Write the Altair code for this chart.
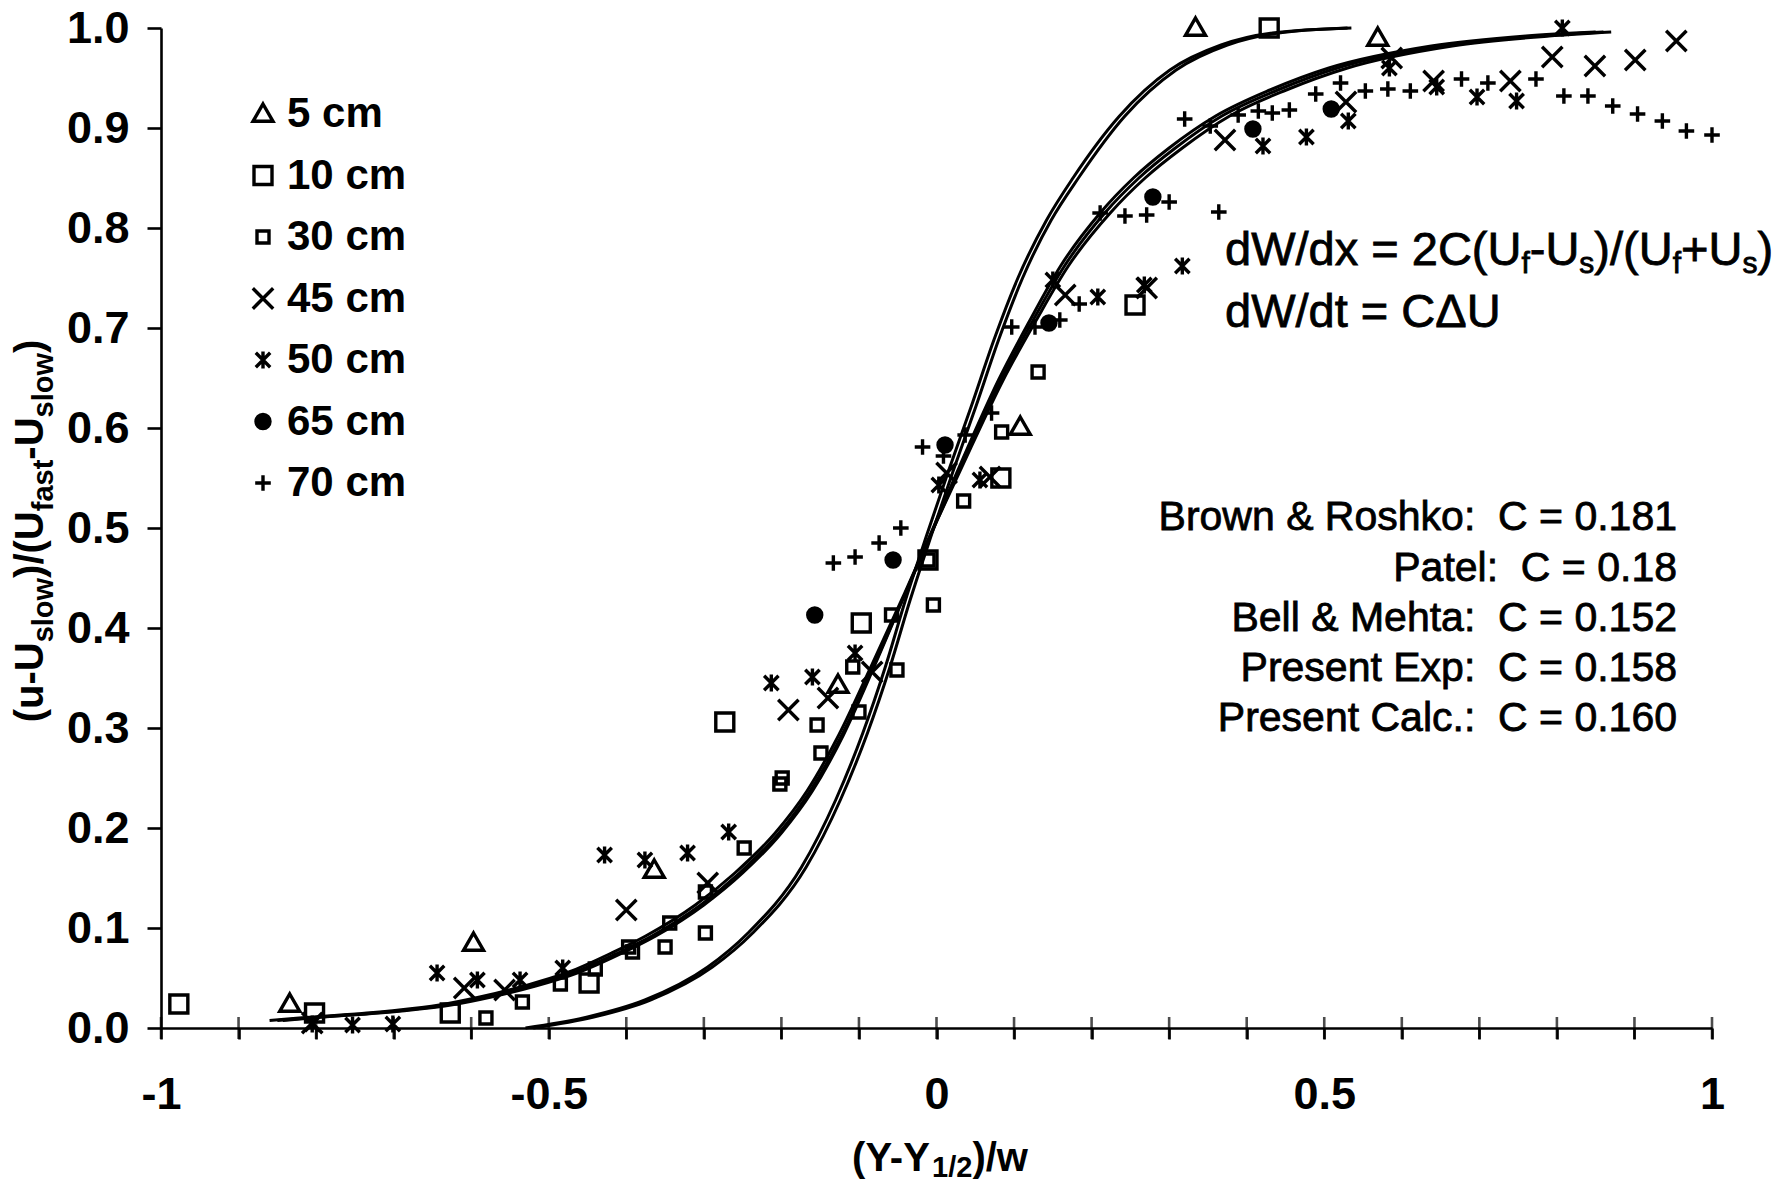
import altair as alt
import pandas as pd

FONT = "Liberation Sans"

# ---------------- data ----------------
series_names = ["5 cm", "10 cm", "30 cm", "45 cm", "50 cm", "65 cm", "70 cm"]

x_5 = [-0.834, -0.597, -0.364, -0.127, 0.108, 0.334, 0.569]
y_5 = [0.024, 0.085, 0.158, 0.343, 0.601, 1.000, 0.990]

x_10 = [-0.977, -0.802, -0.627, -0.448, -0.273, -0.097, -0.011, 0.083, 0.256, 0.429]
y_10 = [0.024, 0.015, 0.015, 0.045, 0.306, 0.405, 0.468, 0.550, 0.723, 1.000]

x_30 = [-0.581, -0.534, -0.485, -0.440, -0.397, -0.392, -0.350, -0.344, -0.298, -0.298,
        -0.248, -0.202, -0.199, -0.154, -0.149, -0.108, -0.100, -0.058, -0.051, -0.011,
        -0.004, 0.035, 0.084, 0.131]
y_30 = [0.010, 0.026, 0.044, 0.059, 0.081, 0.076, 0.081, 0.105, 0.095, 0.136,
        0.180, 0.244, 0.250, 0.303, 0.275, 0.361, 0.316, 0.413, 0.358, 0.468,
        0.423, 0.527, 0.596, 0.656]

x_45 = [-0.805, -0.609, -0.557, -0.400, -0.295, -0.191, -0.140, -0.083, 0.013, 0.069,
        0.166, 0.271, 0.372, 0.528, 0.587, 0.641, 0.740, 0.794, 0.849, 0.901, 0.954]
y_45 = [0.005, 0.040, 0.038, 0.118, 0.145, 0.318, 0.330, 0.356, 0.555, 0.551,
        0.733, 0.740, 0.888, 0.926, 0.970, 0.947, 0.947, 0.971, 0.962, 0.968, 0.987]

x_50 = [-0.805, -0.753, -0.701, -0.644, -0.592, -0.537, -0.482, -0.428, -0.376, -0.321,
        -0.268, -0.213, -0.160, -0.105, 0.003, 0.056, 0.150, 0.208, 0.268, 0.317,
        0.421, 0.477, 0.531, 0.584, 0.645, 0.697, 0.748, 0.807]
y_50 = [0.004, 0.003, 0.004, 0.055, 0.048, 0.048, 0.060, 0.173, 0.168, 0.175,
        0.196, 0.345, 0.351, 0.375, 0.543, 0.548, 0.748, 0.731, 0.743, 0.762,
        0.882, 0.891, 0.907, 0.960, 0.941, 0.931, 0.927, 1.000]

x_65 = [-0.157, -0.056, 0.011, 0.145, 0.279, 0.408, 0.509]
y_65 = [0.413, 0.468, 0.583, 0.705, 0.831, 0.899, 0.919]

x_70 = [-0.133, -0.105, -0.074, -0.046, -0.018, 0.009, 0.037, 0.071, 0.097, 0.127,
        0.159, 0.184, 0.211, 0.243, 0.271, 0.300, 0.364, 0.320, 0.353, 0.389,
        0.415, 0.433, 0.455, 0.489, 0.521, 0.553, 0.582, 0.611, 0.677, 0.711,
        0.773, 0.809, 0.840, 0.872, 0.904, 0.936, 0.967, 1.000]
y_70 = [0.465, 0.471, 0.485, 0.500, 0.581, 0.572, 0.593, 0.615, 0.701, 0.701,
        0.708, 0.724, 0.815, 0.812, 0.813, 0.826, 0.816, 0.909, 0.902, 0.913,
        0.917, 0.915, 0.918, 0.934, 0.945, 0.937, 0.939, 0.937, 0.949, 0.945,
        0.949, 0.932, 0.932, 0.922, 0.914, 0.907, 0.897, 0.893]

# model curves
curve_names = ["Brown & Roshko", "Patel", "Bell & Mehta", "Present Exp", "Present Calc"]
x_br = [-0.530, -0.450, -0.376, -0.295, -0.243, -0.174, -0.130, -0.095, -0.066, -0.040, -0.013,
        0.015, 0.045, 0.074, 0.105, 0.142, 0.176, 0.236, 0.301, 0.367, 0.433, 0.535]
y_br = [0.000, 0.011, 0.028, 0.061, 0.095, 0.161, 0.228, 0.295, 0.361, 0.428, 0.492,
        0.556, 0.622, 0.688, 0.750, 0.808, 0.850, 0.912, 0.958, 0.983, 0.995, 1.000]
x_pa = [-0.520, -0.442, -0.369, -0.289, -0.237, -0.168, -0.124, -0.089, -0.060, -0.034, -0.007,
        0.021, 0.051, 0.080, 0.111, 0.148, 0.183, 0.243, 0.309, 0.375, 0.441, 0.530]
y_pa = [0.000, 0.011, 0.028, 0.061, 0.095, 0.161, 0.228, 0.295, 0.361, 0.428, 0.492,
        0.556, 0.622, 0.688, 0.750, 0.808, 0.850, 0.912, 0.958, 0.983, 0.995, 1.000]
x_bm = [-0.850, -0.812, -0.696, -0.632, -0.580, -0.523, -0.466, -0.411, -0.367, -0.304, -0.254,
        -0.203, -0.163, -0.122, -0.081, -0.040, 0.001, 0.042, 0.083, 0.124, 0.165, 0.217,
        0.261, 0.308, 0.368, 0.440, 0.517, 0.650, 0.775, 0.860]
y_bm = [0.0075, 0.010, 0.017, 0.023, 0.031, 0.042, 0.056, 0.075, 0.092, 0.123, 0.155,
        0.195, 0.237, 0.293, 0.362, 0.435, 0.508, 0.580, 0.648, 0.707, 0.762, 0.815,
        0.850, 0.880, 0.912, 0.938, 0.960, 0.982, 0.992, 0.996]
x_pe = [-0.860, -0.822, -0.705, -0.641, -0.589, -0.532, -0.474, -0.419, -0.375, -0.311, -0.260,
        -0.208, -0.167, -0.126, -0.084, -0.041, 0.001, 0.044, 0.086, 0.128, 0.170, 0.224,
        0.269, 0.317, 0.378, 0.451, 0.530, 0.665, 0.790, 0.870]
y_pe = [0.0075, 0.010, 0.017, 0.023, 0.031, 0.042, 0.056, 0.075, 0.092, 0.123, 0.155,
        0.195, 0.237, 0.293, 0.362, 0.435, 0.508, 0.580, 0.648, 0.707, 0.762, 0.815,
        0.850, 0.880, 0.912, 0.938, 0.960, 0.982, 0.992, 0.996]
x_pc = [-0.843, -0.806, -0.690, -0.626, -0.574, -0.517, -0.460, -0.405, -0.362, -0.300, -0.250,
        -0.200, -0.160, -0.120, -0.080, -0.040, 0.000, 0.040, 0.080, 0.120, 0.160, 0.211,
        0.254, 0.300, 0.360, 0.430, 0.506, 0.638, 0.760, 0.850]
y_pc = [0.0075, 0.010, 0.017, 0.023, 0.031, 0.042, 0.056, 0.075, 0.092, 0.123, 0.155,
        0.195, 0.237, 0.293, 0.362, 0.435, 0.508, 0.580, 0.648, 0.707, 0.762, 0.815,
        0.850, 0.880, 0.912, 0.938, 0.960, 0.982, 0.992, 0.996]

x_tick_values = [-1.0, -0.9, -0.8, -0.7, -0.6, -0.5, -0.4, -0.3, -0.2, -0.1, 0.0,
                 0.1, 0.2, 0.3, 0.4, 0.5, 0.6, 0.7, 0.8, 0.9, 1.0]
x_label_values = ["-1", "-0.5", "0", "0.5", "1"]
y_tick_values = [0.0, 0.1, 0.2, 0.3, 0.4, 0.5, 0.6, 0.7, 0.8, 0.9, 1.0]

y_title_runs = [("(u-U", 0), ("slow", 1), (")/(U", 0), ("fast", 1), ("-U", 0), ("slow", 1), (")", 0)]
x_title_runs = [("(Y-Y", 0), ("1/2", 1), (")/w", 0)]
eq1_runs = [("dW/dx = 2C(U", 0), ("f", 1), ("-U", 0), ("s", 1), (")/(U", 0), ("f", 1),
            ("+U", 0), ("s", 1), (")", 0)]
eq2_text = "dW/dt = C\u0394U"
c_lines = ["Brown & Roshko:\u00a0 C = 0.181", "Patel:\u00a0 C = 0.18", "Bell & Mehta:\u00a0 C = 0.152",
           "Present Exp:\u00a0 C = 0.158", "Present Calc.:\u00a0 C = 0.160"]

# ---------------- styles ----------------
# marker outlines drawn at one common symbol size (1 unit = 10 px)
TRI = "M0,-1.0L1.0,0.73L-1.0,0.73Z"
BIG_SQ = "M-0.9,-0.9L0.9,-0.9L0.9,0.9L-0.9,0.9Z"
SMALL_SQ = "M-0.6,-0.6L0.6,-0.6L0.6,0.6L-0.6,0.6Z"
X_PATH = "M-1.02,-1.02L1.02,1.02M-1.02,1.02L1.02,-1.02"
AST_PATH = "M-0.72,-0.72L0.72,0.72M-0.72,0.72L0.72,-0.72M0,-0.85L0,0.85"
DOT = "M-0.7,0A0.7,0.7 0 1,0 0.7,0A0.7,0.7 0 1,0 -0.7,0Z"
PLUS_PATH = "M-0.78,0L0.78,0M0,-0.78L0,0.78"
shape_range = [TRI, BIG_SQ, SMALL_SQ, X_PATH, AST_PATH, DOT, PLUS_PATH]
fill_range = ["transparent", "transparent", "transparent", "transparent", "transparent", "black", "transparent"]
stroke_range = ["black"] * 7
SYM_SIZE = 400
SYM_STROKE = 3.4

W_REG = {' ': 278, '\u00a0': 278, '(': 333, ')': 333, '-': 333, '+': 584, '/': 278, '=': 584,
         '2': 556, 'C': 722, 'U': 722, 'W': 944, 'd': 556, 'x': 500, 'f': 278, 's': 500, 't': 278}
W_BOLD = {'(': 333, ')': 333, '-': 333, '/': 278, 'u': 611, 'U': 722, 's': 556, 'l': 278,
          'o': 611, 'w': 778, 'f': 333, 'a': 556, 't': 333, 'Y': 667, '1': 556, '2': 556}


def tw(s, table, size):
    return sum(table.get(c, 556) for c in s) * size / 1000.0


# page offsets of the plot area
VX, VY = 161, 28
PW, PH = 1551, 1000

frames = []
for nm, xs, ys in zip(series_names, [x_5, x_10, x_30, x_45, x_50, x_65, x_70],
                      [y_5, y_10, y_30, y_45, y_50, y_65, y_70]):
    frames.append(pd.DataFrame({"x": xs, "y": ys, "series": nm}))
pts = pd.concat(frames, ignore_index=True)

cframes = []
for nm, xs, ys in zip(curve_names, [x_br, x_pa, x_bm, x_pe, x_pc], [y_br, y_pa, y_bm, y_pe, y_pc]):
    cframes.append(pd.DataFrame({"x": xs, "y": ys, "curve": nm}))
curves = pd.concat(cframes, ignore_index=True)

ticks_df = pd.DataFrame({"x": x_tick_values, "y": [0.0] * len(x_tick_values)})

xscale = alt.Scale(domain=[-1, 1], nice=False, zero=False)
yscale = alt.Scale(domain=[0, 1], nice=False, zero=False)

label_list = "[" + ",".join("'" + v + "'" for v in x_label_values) + "]"
xaxis = alt.Axis(values=x_tick_values, title=None, grid=False,
                 labelExpr="indexof(" + label_list + ", '' + datum.value) >= 0 ? '' + datum.value : ''",
                 domainColor="black", domainWidth=2.6, tickColor="black", tickWidth=2.6, tickSize=11,
                 labelFont=FONT, labelFontSize=45, labelFontWeight="bold", labelColor="black",
                 labelPadding=33, labelOverlap=False, labelFlush=False)
yaxis = alt.Axis(values=y_tick_values, format=".1f", title=None, grid=False,
                 domainColor="black", domainWidth=2.6, tickColor="black", tickWidth=2.6, tickSize=14,
                 labelFont=FONT, labelFontSize=45, labelFontWeight="bold", labelColor="black",
                 labelPadding=18, labelOverlap=False, labelFlush=False)

X = alt.X("x:Q", scale=xscale, axis=xaxis)
Y = alt.Y("y:Q", scale=yscale, axis=yaxis)

leg = alt.Legend(title=None, orient="none", legendX=81, legendY=65, padding=0, offset=0,
                 labelFont=FONT, labelFontSize=42, labelFontWeight="bold", labelColor="black",
                 labelOffset=3, rowPadding=19.5, symbolStrokeColor="black", symbolStrokeWidth=SYM_STROKE,
                 symbolSize=SYM_SIZE, symbolOpacity=1, labelLimit=0)

points = alt.Chart(pts).mark_point(filled=True, size=SYM_SIZE, strokeWidth=SYM_STROKE, opacity=1).encode(
    x=X, y=Y,
    shape=alt.Shape("series:N", scale=alt.Scale(domain=series_names, range=shape_range), legend=leg),
    fill=alt.Fill("series:N", scale=alt.Scale(domain=series_names, range=fill_range), legend=leg),
    stroke=alt.Stroke("series:N", scale=alt.Scale(domain=series_names, range=stroke_range), legend=leg),
)

lines = alt.Chart(curves).mark_line(color="black", strokeWidth=3.0, interpolate="monotone").encode(
    x=X, y=Y, detail="curve:N")

xticks = alt.Chart(ticks_df).mark_tick(orient="vertical", size=22, thickness=2.6, color="black").encode(
    x=X, y=Y)

anchor = pd.DataFrame({"a": [0]})


def txt(text, px, py, size, weight="normal", angle=None, align="left", thick=0.0):
    kw = dict(text=text, font=FONT, fontSize=size, fontWeight=weight, color="black",
              align=align, baseline="alphabetic")
    if angle is not None:
        kw["angle"] = angle
    if thick > 0:
        kw["stroke"] = "black"
        kw["strokeWidth"] = thick
    return alt.Chart(anchor).mark_text(**kw).encode(x=alt.value(px - VX), y=alt.value(py - VY))


text_layers = []

# y-axis title (rotated, reading upward)
YT_MAIN, YT_SUB = 40, 29
ylen = sum(tw(s, W_BOLD, YT_SUB if sub else YT_MAIN) for s, sub in y_title_runs)
cur = 531 + ylen / 2
for s, sub in y_title_runs:
    fs = YT_SUB if sub else YT_MAIN
    text_layers.append(txt(s, 53 if sub else 43, cur, fs, "bold", angle=270))
    cur -= tw(s, W_BOLD, fs)

# x-axis title
XT_MAIN, XT_SUB = 40, 29
xlen = sum(tw(s, W_BOLD, XT_SUB if sub else XT_MAIN) for s, sub in x_title_runs)
cur = 940 - xlen / 2
for s, sub in x_title_runs:
    fs = XT_SUB if sub else XT_MAIN
    text_layers.append(txt(s, cur, 1177 if sub else 1171, fs, "bold"))
    cur += tw(s, W_BOLD, fs)

# equations
EQ_MAIN, EQ_SUB = 47, 30
cur = 1225
for s, sub in eq1_runs:
    fs = EQ_SUB if sub else EQ_MAIN
    text_layers.append(txt(s, cur, 273 if sub else 265, fs, thick=0.8))
    cur += tw(s, W_REG, fs)
text_layers.append(txt(eq2_text, 1225, 327, EQ_MAIN, thick=0.8))

# C values block (right aligned)
for i, line in enumerate(c_lines):
    text_layers.append(txt(line, 1677, [530, 581, 631, 681, 731][i], 41, align="right", thick=0.8))

chart = alt.layer(lines, xticks, points, *text_layers).properties(
    width=PW, height=PH,
    autosize=alt.AutoSizeParams(type="none"),
    padding={"left": VX, "top": VY, "right": 1785 - VX - PW, "bottom": 1184 - VY - PH},
).configure_view(stroke=None)

chart.save("out.html", embed_options={"renderer": "svg", "actions": False})
